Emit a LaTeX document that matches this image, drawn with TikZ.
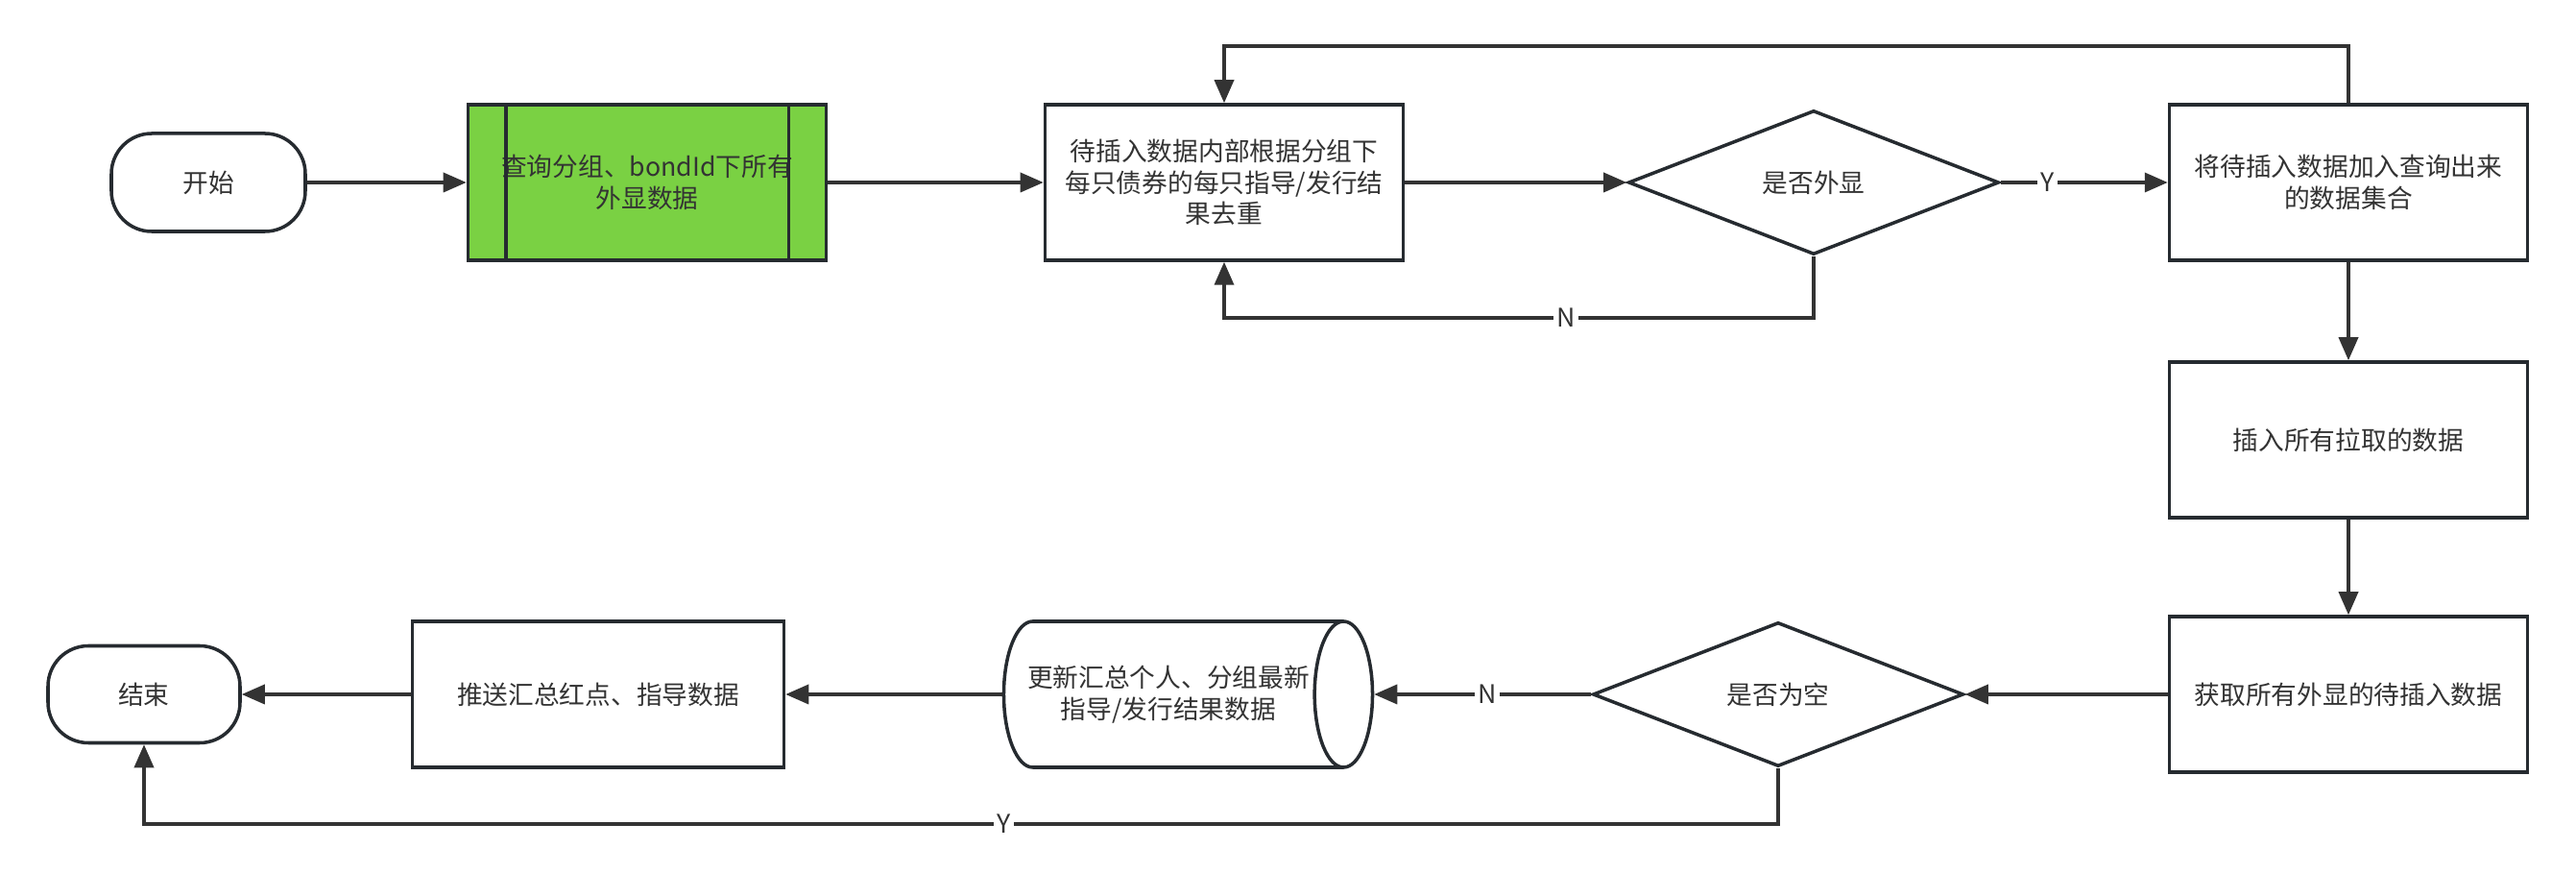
\documentclass[tikz,border=0pt]{standalone}
\usepackage{fontspec}
\setmainfont{Noto Sans CJK SC}
\usetikzlibrary{arrows.meta,positioning,calc,shapes.geometric}
\definecolor{lineink}{HTML}{262B30}
\definecolor{arrowink}{HTML}{333333}
\definecolor{textink}{HTML}{333333}
\definecolor{querygreen}{HTML}{7AD143}
\tikzset{
  >={Triangle[length=2.4mm,width=2mm]},
  % knoten
  proc/.style={rectangle,draw=lineink,line width=1pt,fill=white,text=textink,
               minimum width=3.73cm,minimum height=1.62cm,inner sep=2pt,align=center,
               font=\fontsize{7.6}{9.3}\selectfont},
  term/.style={rectangle,rounded corners=0.42cm,draw=lineink,line width=1pt,fill=white,
               text=textink,minimum width=2.02cm,minimum height=1.02cm,
               font=\fontsize{7.6}{9.3}\selectfont},
  dec/.style={diamond,aspect=2.57,draw=lineink,line width=1pt,fill=white,text=textink,
              minimum width=3.86cm,minimum height=1.50cm,inner sep=0pt,
              font=\fontsize{7.6}{9.3}\selectfont},
  store/.style={cylinder,shape border rotate=0,aspect=0.9,draw=lineink,line width=1pt,
                fill=white,text=textink,minimum height=3.78cm,minimum width=1.52cm,
                inner sep=1pt,align=center,font=\fontsize{7.6}{9.3}\selectfont},
  sub/.style={proc,fill=querygreen},
  % kanten
  flow/.style={->,draw=arrowink,line width=1pt},
  lbl/.style={fill=white,inner sep=1pt,text=textink,font=\fontsize{7.6}{9.3}\selectfont},
}
\begin{document}
\begin{tikzpicture}
  \useasboundingbox (0,0) rectangle (26.83,9.09);
  % obere reihe
  \node[term] (start) at (2.17,7.19) {开始};
  \node[sub] (query) at (6.74,7.19) {查询分组、bondId下所有\\外显数据};
  \node[proc] (dedup) at (12.75,7.19) {待插入数据内部根据分组下\\每只债券的每只指导/发行结\\果去重};
  \node[dec] (shown) at (18.89,7.19) {是否外显};
  \node[proc] (merge) at (24.46,7.19) {将待插入数据加入查询出来\\的数据集合};
  % rechte spalte
  \node[proc] (pullall) at (24.46,4.51) {插入所有拉取的数据};
  \node[proc] (fetch) at (24.46,1.86) {获取所有外显的待插入数据};
  % untere reihe
  \node[dec] (empty) at (18.52,1.86) {是否为空};
  \node[store] (update) at (12.17,1.86) {更新汇总个人、分组最新\\指导/发行结果数据};
  \node[proc,minimum width=3.87cm,minimum height=1.52cm] (push) at (6.23,1.86) {推送汇总红点、指导数据};
  \node[term,minimum width=2.0cm,minimum height=1.01cm] (end) at (1.50,1.86) {结束};

  \draw[draw=lineink,line width=1pt] ([xshift=0.41cm]query.north west) -- ([xshift=0.41cm]query.south west);
  \draw[draw=lineink,line width=1pt] ([xshift=-0.41cm]query.north east) -- ([xshift=-0.41cm]query.south east);

  \draw[flow] (start) -- (query);
  \draw[flow] (query) -- (dedup);
  \draw[flow] (dedup) -- (shown);
  \draw[flow] (shown) -- node[lbl,pos=0.28]{Y} (merge);
  \draw[flow] (shown.south) -- ++(0,-0.64) -| node[lbl,pos=0.21]{N} (dedup.south);
  \draw[flow] (merge.north) -- ++(0,0.59) -| (dedup.north);
  \draw[flow] (merge) -- (pullall);
  \draw[flow] (pullall) -- (fetch);
  \draw[flow] (fetch) -- (empty);
  \draw[flow] (empty) -- node[lbl,pos=0.48]{N} (update);
  \draw[flow] (update) -- (push);
  \draw[flow] (push) -- (end);
  \draw[flow] (empty.south) -- ++(0,-0.58) -| node[lbl,pos=0.237]{Y} (end.south);
\end{tikzpicture}
\end{document}
